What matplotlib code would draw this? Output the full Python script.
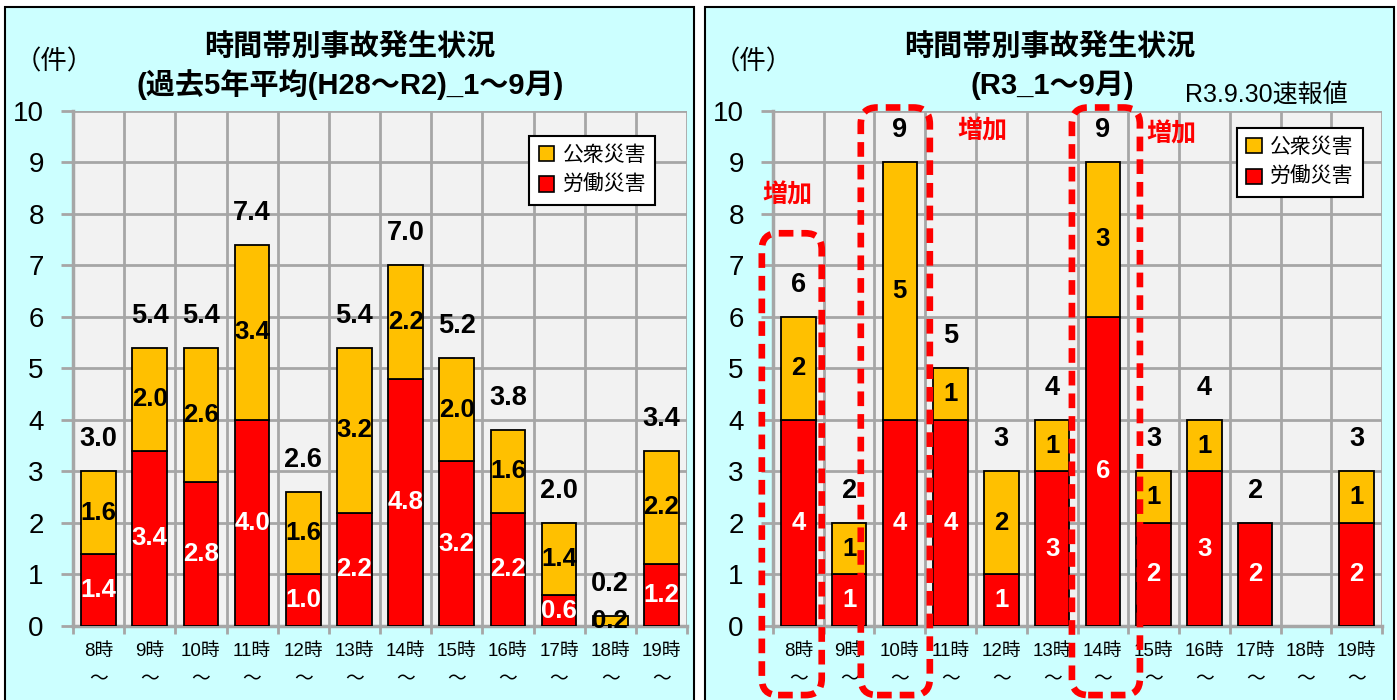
import matplotlib.pyplot as plt
from matplotlib.patches import Rectangle, FancyBboxPatch, Patch

plt.rcParams['font.family'] = ['Liberation Sans', 'Noto Sans CJK JP']

# data
hours = ['8時', '9時', '10時', '11時', '12時', '13時', '14時', '15時', '16時', '17時', '18時', '19時']
past_labor = [1.4, 3.4, 2.8, 4.0, 1.0, 2.2, 4.8, 3.2, 2.2, 0.6, 0.0, 1.2]
past_public = [1.6, 2.0, 2.6, 3.4, 1.6, 3.2, 2.2, 2.0, 1.6, 1.4, 0.2, 2.2]
r3_labor = [4, 1, 4, 4, 1, 3, 6, 2, 3, 2, 0, 2]
r3_public = [2, 1, 5, 1, 2, 1, 3, 1, 1, 0, 0, 1]
increase_hours = ['8時', '10時', '14時']

RED = '#FF0000'
YELLOW = '#FFC000'
GRID = '#A6A6A6'
W, H = 1397, 700

fig = plt.figure(figsize=(W / 100, H / 100), dpi=100)

# panel backgrounds
for x0, x1 in [(5, 694), (705, 1394)]:
    fig.add_artist(Rectangle((x0 / W, -0.05), (x1 - x0) / W, (H - 7) / H + 0.05,
                             transform=fig.transFigure, fc='#CCFFFF', ec='black',
                             lw=1.5, zorder=-10))


def draw_panel(ax, labor, public, fmt, legend_pos):
    totals = [a + b for a, b in zip(labor, public)]
    ax.set_facecolor('#F2F2F2')
    for i in range(len(hours)):
        if labor[i] > 0:
            ax.bar(i, labor[i], 0.68, color=RED, edgecolor='black', lw=1.3, zorder=3)
            ax.text(i, labor[i] / 2, fmt % labor[i], ha='center', va='center',
                    color='white', fontsize=18.5, fontweight='bold', zorder=5)
        if public[i] > 0:
            ax.bar(i, public[i], 0.68, bottom=labor[i], color=YELLOW, edgecolor='black',
                   lw=1.3, zorder=3)
            ax.text(i, labor[i] + public[i] / 2, fmt % public[i], ha='center', va='center',
                    color='black', fontsize=18.5, fontweight='bold', zorder=5)
        if totals[i] > 0:
            ax.annotate(fmt % totals[i], (i, totals[i]), xytext=(0, 23),
                        textcoords='offset points', ha='center', va='center',
                        fontsize=19.5, fontweight='bold', zorder=5, annotation_clip=False)

    ax.set_xlim(-0.5, len(hours) - 0.5)
    ax.set_ylim(0, 10)
    ax.set_yticks(range(11))
    ax.set_xticks(range(len(hours)))
    ax.set_xticklabels([h + '\n～' for h in hours], fontsize=13.5, linespacing=1.9)
    ax.set_xticks([i - 0.5 for i in range(len(hours) + 1)], minor=True)
    ax.tick_params(axis='x', which='major', length=0, pad=12)
    ax.tick_params(axis='x', which='minor', length=6, width=2, color=GRID)
    ax.tick_params(axis='y', length=9, width=2, color=GRID, labelsize=20, pad=12)
    ax.grid(True, axis='y', color=GRID, lw=2, zorder=1)
    ax.grid(True, axis='x', which='minor', color=GRID, lw=2, zorder=1)
    ax.set_axisbelow(True)
    for s in ['top', 'right']:
        ax.spines[s].set_visible(False)
    for s in ['left', 'bottom']:
        ax.spines[s].set_color(GRID)
        ax.spines[s].set_linewidth(2.5)

    handles = [Patch(fc=YELLOW, ec='black', lw=1.2, label='公衆災害'),
               Patch(fc=RED, ec='black', lw=1.2, label='労働災害')]
    leg = ax.legend(handles=handles, loc='upper left', bbox_to_anchor=legend_pos,
                    fontsize=15, handlelength=0.75, handleheight=0.75, handletextpad=0.4,
                    borderpad=0.45, labelspacing=0.5, fancybox=False, framealpha=1,
                    borderaxespad=0)
    leg.get_frame().set_edgecolor('black')
    leg.get_frame().set_linewidth(1.5)
    leg.set_zorder(6)


ax1 = fig.add_axes([73 / W, 74 / H, 614 / W, 515.4 / H])
draw_panel(ax1, past_labor, past_public, '%.1f', (0.743, 0.951))
ax2 = fig.add_axes([773 / W, 74 / H, 609 / W, 515.4 / H])
draw_panel(ax2, r3_labor, r3_public, '%d', (0.762, 0.966))

# titles
fig.text(350 / W, 1 - 47 / H, '時間帯別事故発生状況', ha='center', va='center',
         fontsize=21, fontweight='bold')
fig.text(350 / W, 1 - 85 / H, '(過去5年平均(H28～R2)_1～9月)', ha='center', va='center',
         fontsize=21, fontweight='bold')
fig.text(1050 / W, 1 - 47 / H, '時間帯別事故発生状況', ha='center', va='center',
         fontsize=21, fontweight='bold')
fig.text(1052 / W, 1 - 85 / H, '(R3_1～9月)', ha='center', va='center',
         fontsize=21, fontweight='bold')
fig.text(1266 / W, 1 - 95 / H, 'R3.9.30速報値', ha='center', va='center', fontsize=18)
for xc in [54, 753]:
    fig.text(xc / W, 1 - 62 / H, '（件）', ha='center', va='center', fontsize=19)

# highlighted increases (dashed rounded boxes)
box_extent = {'8時': (-0.72, 0.46, 7.62), '10時': (-0.77, 0.59, 10.06), '14時': (-0.61, 0.73, 10.06)}
label_pos = {'8時': (-0.22, 8.36), '10時': (1.62, 9.6), '14時': (1.36, 9.53)}
for h in increase_hours:
    i = hours.index(h)
    l, r, top = box_extent[h]
    bottom = -1.34
    ax2.add_patch(FancyBboxPatch((i + l, bottom), r - l, top - bottom,
                                 boxstyle='round,pad=0,rounding_size=0.32',
                                 fill=False, ec=RED, lw=4.8, ls=(0, (2.2, 1.2)),
                                 clip_on=False, zorder=7))
    dx, y = label_pos[h]
    ax2.text(i + dx, y, '増加', ha='center', va='center', color=RED,
             fontsize=18, fontweight='bold', zorder=7)

fig.savefig('out.png', dpi=100)
